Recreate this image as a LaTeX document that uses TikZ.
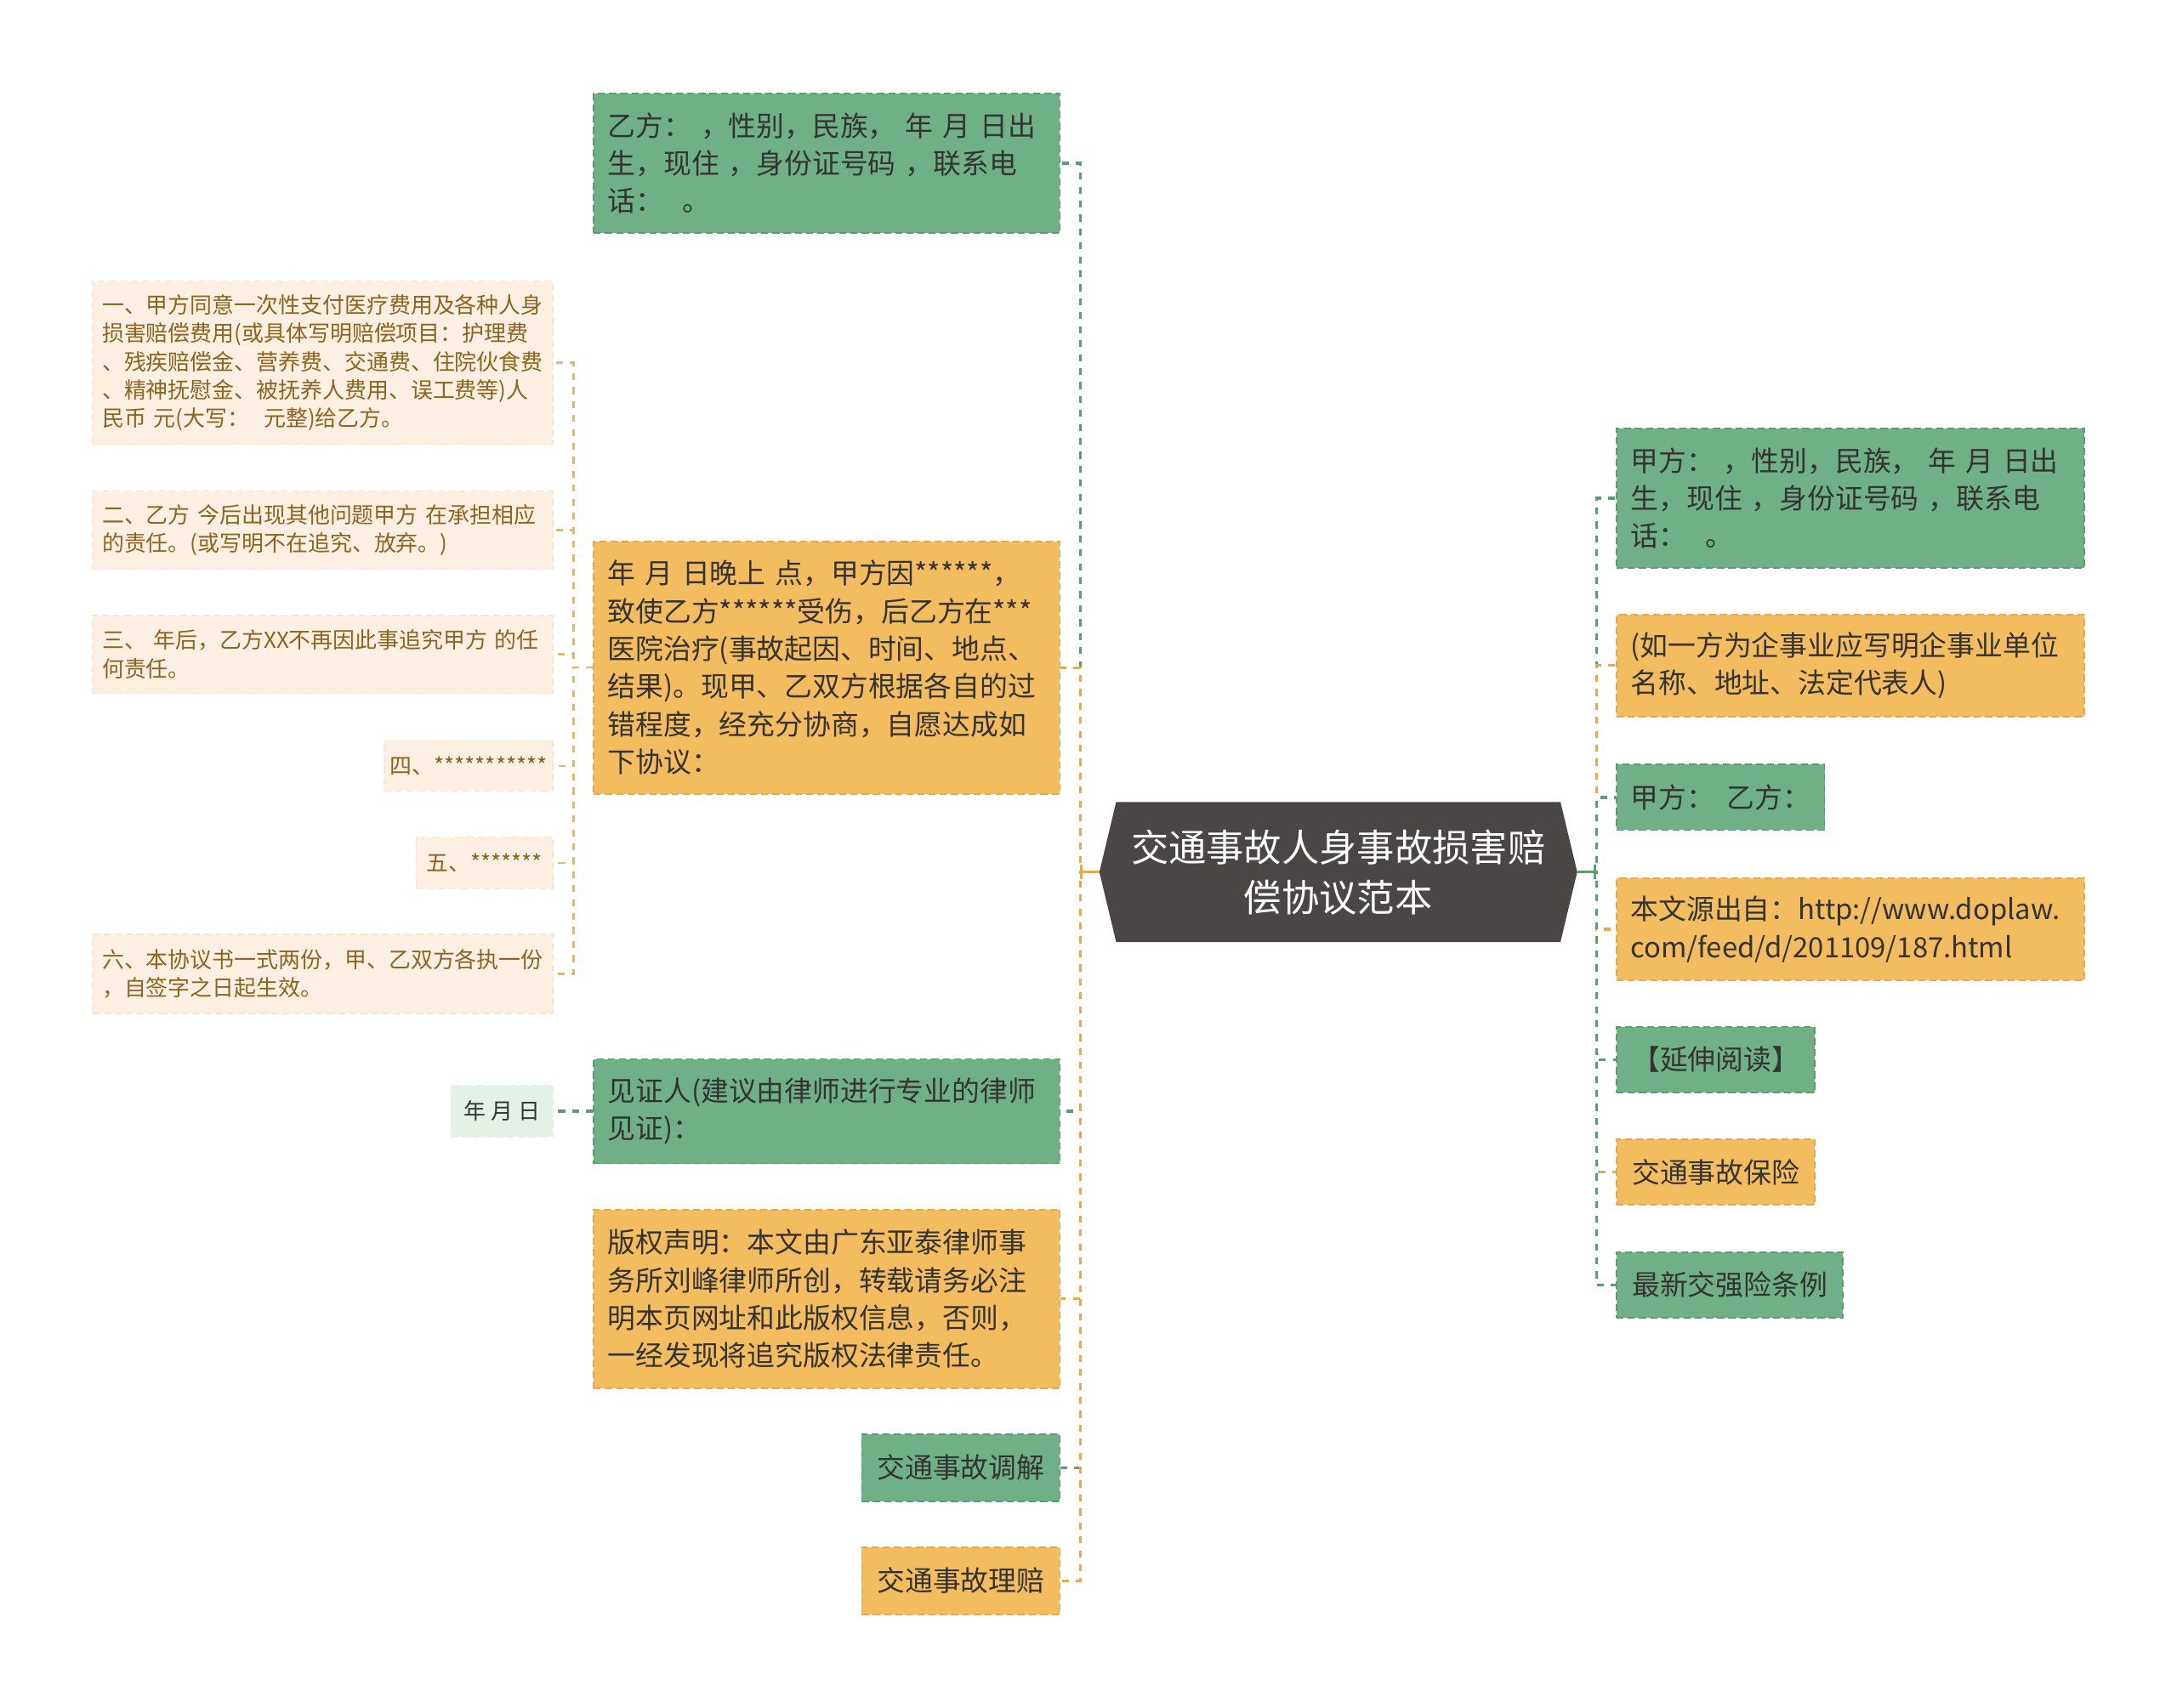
\documentclass[tikz,border=0pt]{standalone}
\usepackage{fontspec}
\setmainfont{Noto Sans CJK SC}
\usetikzlibrary{arrows.meta,backgrounds}

\definecolor{leafgreen}{HTML}{6FB086}
\definecolor{edgegreen}{HTML}{5C9C72}
\definecolor{leaforange}{HTML}{F2BC5F}
\definecolor{edgeorange}{HTML}{E6AA4C}
\definecolor{cream}{HTML}{FDF0E2}
\definecolor{creamedge}{HTML}{F8E5CC}
\definecolor{creamtext}{HTML}{8C6420}
\definecolor{creamlink}{HTML}{E4B86C}
\definecolor{palegreen}{HTML}{E4F1E7}
\definecolor{rootgray}{HTML}{4B4646}
\definecolor{textdark}{HTML}{333333}

\tikzset{
  box/.style={draw, line width=1pt, dash pattern=on 5pt off 3pt, inner xsep=10pt, inner ysep=0pt,
    align=left, text=textdark, font=\fontsize{20}{27}\selectfont},
  gbox/.style={box, fill=leafgreen, draw=edgegreen},
  obox/.style={box, fill=leaforange, draw=edgeorange},
  sbox/.style={box, fill=cream, draw=creamedge, text=creamtext, inner xsep=7pt,
    font=\fontsize{15.8}{20.3}\selectfont},
  link/.style={line width=2pt, dash pattern=on 5pt off 5pt},
  glink/.style={link, draw=edgegreen},
  olink/.style={link, draw=edgeorange},
  clink/.style={link, line width=1.5pt, draw=creamlink},
  stub/.style={line width=2pt, -{Bar[width=10pt]}},
}

\begin{document}
\begin{tikzpicture}[x=1pt, y=-1pt]
    \useasboundingbox (0,0) rectangle (1560,1224);

    % centre
    \node[text=white, font=\fontsize{27}{36}\selectfont, align=center, inner sep=0pt,
      minimum width=342pt, minimum height=100pt] (root) at (959,625) {交通事故人身事故损害赔\\偿协议范本};
    \begin{scope}[on background layer]
      \fill[white] (0,0) rectangle (1560,1224);
      \fill[rootgray] ([xshift=12pt]root.north west) -- ([xshift=-12pt]root.north east) -- (root.east)
        -- ([xshift=-12pt]root.south east) -- ([xshift=12pt]root.south west) -- (root.west) -- cycle;
    \end{scope}

    % left branch
    \node[gbox, anchor=east, text width=314pt, minimum height=100pt] (yi) at (760,117) {乙方：~，性别，民族，~年~月~日出\\生，现住~，身份证号码~，联系电\\话：~~。};
    \node[obox, anchor=east, text width=314pt, minimum height=181pt] (acc) at (760,478.5) {年~月~日晚上~点，甲方因******，\\致使乙方******受伤，后乙方在***\\医院治疗(事故起因、时间、地点、\\结果)。现甲、乙双方根据各自的过\\错程度，经充分协商，自愿达成如\\下协议：};
    \node[gbox, anchor=east, text width=314pt, minimum height=75pt] (wit) at (760,796.5) {见证人(建议由律师进行专业的律师\\见证)：};
    \node[obox, anchor=east, text width=314pt, minimum height=128pt] (copy) at (760,931) {版权声明：本文由广东亚泰律师事\\务所刘峰律师所创，转载请务必注\\明本页网址和此版权信息，否则，\\一经发现将追究版权法律责任。};
    \node[gbox, anchor=east, minimum width=142pt, minimum height=48pt] (med) at (760,1052) {交通事故调解};
    \node[obox, anchor=east, minimum width=142pt, minimum height=48pt] (clm) at (760,1133) {交通事故理赔};

    % items of the agreement
    \node[sbox, anchor=east, text width=316pt, minimum height=117pt] (s1) at (396.7,260) {一、甲方同意一次性支付医疗费用及各种人身\\损害赔偿费用(或具体写明赔偿项目：护理费\\、残疾赔偿金、营养费、交通费、住院伙食费\\、精神抚慰金、被抚养人费用、误工费等)人\\民币~元(大写：~~元整)给乙方。};
    \node[sbox, anchor=east, text width=316pt, minimum height=56pt] (s2) at (396.7,380) {二、乙方~今后出现其他问题甲方~在承担相应\\的责任。(或写明不在追究、放弃。)};
    \node[sbox, anchor=east, text width=316pt, minimum height=56pt] (s3) at (396.7,469) {三、~年后，乙方XX不再因此事追究甲方~的任\\何责任。};
    \node[sbox, anchor=east, inner xsep=4pt, minimum width=119pt, minimum height=36pt] (s4) at (396.7,549) {四、***********};
    \node[sbox, anchor=east, minimum width=98pt, minimum height=37pt] (s5) at (396.7,618.5) {五、*******};
    \node[sbox, anchor=east, text width=316pt, minimum height=57pt] (s6) at (396.7,698) {六、本协议书一式两份，甲、乙双方各执一份\\，自签字之日起生效。};
    \node[sbox, fill=palegreen, draw=palegreen, text=textdark, anchor=east, minimum width=73pt, minimum height=37pt] (ymd) at (396.7,796.5) {年~月~日};

    % right branch
    \node[gbox, anchor=west, text width=315pt, minimum height=100pt] (jia) at (1158,357) {甲方：~，性别，民族，~年~月~日出\\生，现住~，身份证号码~，联系电\\话：~~。};
    \node[obox, anchor=west, text width=315pt, minimum height=73pt] (note) at (1158,477) {(如一方为企事业应写明企事业单位\\名称、地址、法定代表人)};
    \node[gbox, anchor=west, minimum width=148pt, minimum height=47pt] (sign) at (1158,571.5) {甲方：~~乙方：};
    \node[obox, anchor=west, text width=315pt, minimum height=73pt] (src) at (1158,666) {本文源出自：http://www.doplaw.\\com/feed/d/201109/187.html};
    \node[gbox, anchor=west, minimum width=142pt, minimum height=47pt] (more) at (1158,759.5) {【延伸阅读】};
    \node[obox, anchor=west, minimum width=142pt, minimum height=47pt] (ins) at (1158,840) {交通事故保险};
    \node[gbox, anchor=west, minimum width=162pt, minimum height=47pt] (law) at (1158,921) {最新交强险条例};

    \coordinate (tl) at (774,625);
    \coordinate (tr) at (1144,625);
    \coordinate (sl) at (411,478.5);

    \draw[glink] (root.west) -- (tl) |- (yi.east);
    \draw[olink] (root.west) -- (tl) |- (acc.east);
    \draw[glink] (root.west) -- (tl) |- (wit.east);
    \draw[olink] (root.west) -- (tl) |- (copy.east);
    \draw[glink] (root.west) -- (tl) |- (med.east);
    \draw[olink] (root.west) -- (tl) |- (clm.east);
    \draw[stub, draw=edgeorange] (root.west) -- (tl);

    \draw[clink] (acc.west) -- (sl) |- (s1.east);
    \draw[clink] (acc.west) -- (sl) |- (s2.east);
    \draw[clink] (acc.west) -- (sl) |- (s3.east);
    \draw[clink] (acc.west) -- (sl) |- (s4.east);
    \draw[clink] (acc.west) -- (sl) |- (s5.east);
    \draw[clink] (acc.west) -- (sl) |- (s6.east);
    \draw[glink] (wit.west) -- (ymd.east);

    \draw[glink] (root.east) -- (tr) |- (jia.west);
    \draw[olink] (root.east) -- (tr) |- (note.west);
    \draw[glink] (root.east) -- (tr) |- (sign.west);
    \draw[olink] (root.east) -- (tr) |- (src.west);
    \draw[glink] (root.east) -- (tr) |- (more.west);
    \draw[olink] (root.east) -- (tr) |- (ins.west);
    \draw[glink] (root.east) -- (tr) |- (law.west);
    \draw[stub, draw=edgegreen] (root.east) -- (tr);
\end{tikzpicture}
\end{document}
